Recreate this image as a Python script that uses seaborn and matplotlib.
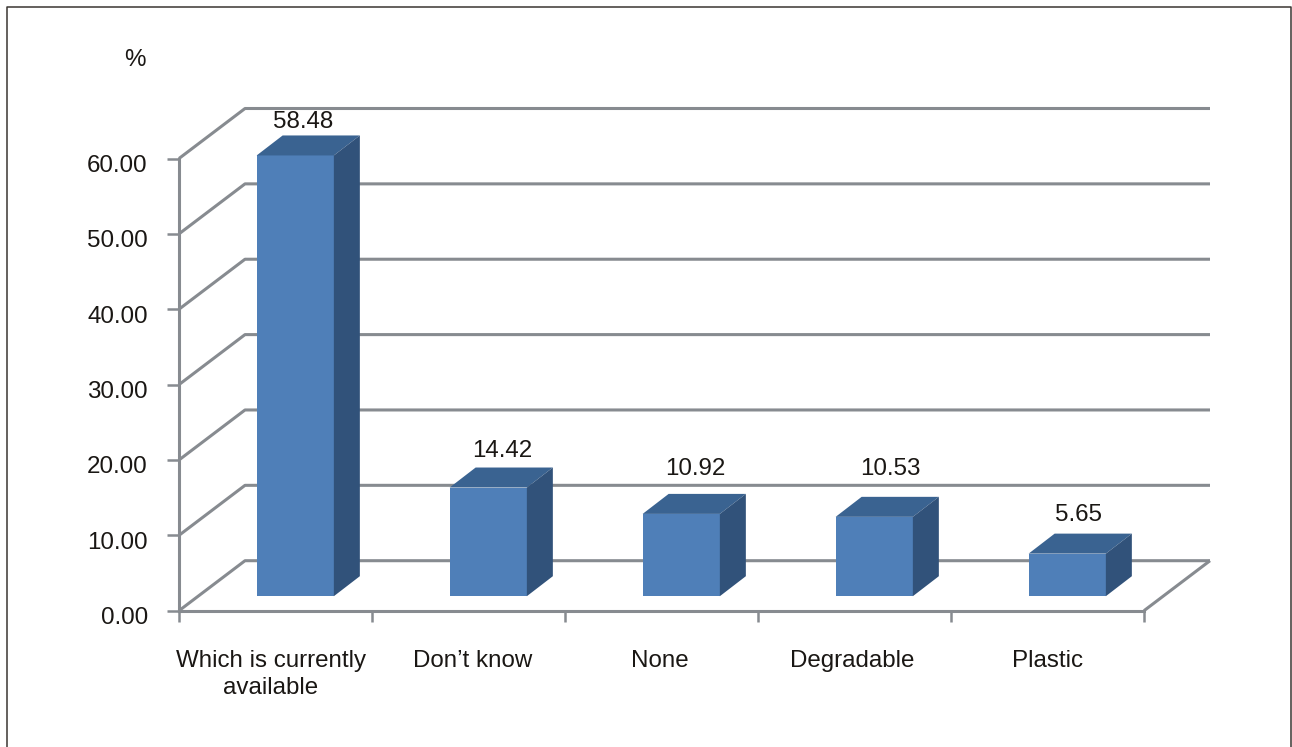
import matplotlib.pyplot as plt
import numpy as np
import pandas as pd
import seaborn as sns
from matplotlib.lines import Line2D
from matplotlib.transforms import ScaledTranslation

categories = ["Which is currently\navailable", "Don\u2019t know", "None", "Degradable", "Plastic"]
values = [58.48, 14.42, 10.92, 10.53, 5.65]
y_ticks = [0, 10, 20, 30, 40, 50, 60]

# small per-label nudges in pixels, the original labels are not quite centred
x_label_nudge = [-4.5, 4.5, -1.5, -2.5, 0.5]
value_label_nudge_x = [8, 13.75, 13.75, 15.75, 11]
value_label_nudge_y = [33, 36.5, 45, 48, 38.5]

FRONT = "#4f7fb8"
TOP = "#3a6391"
SIDE = "#31527a"
GRID = "#878b90"
TEXT = "#1a1714"
FONT_SIZE = 17.4

W, H = 1292, 747
AX_L, AX_R, AX_T, AX_B = 179, 1144, 158.5, 610.7

sns.set_theme(style="white")
plt.rcParams["font.family"] = ["Liberation Sans", "DejaVu Sans"]

fig = plt.figure(figsize=(W / 100, H / 100), dpi=100)
ax = fig.add_axes([AX_L / W, 1 - AX_B / H, (AX_R - AX_L) / W, (AX_B - AX_T) / H])

df = pd.DataFrame({"category": categories, "value": values})
sns.barplot(data=df, x="category", y="value", color=FRONT, saturation=1, width=0.4, ax=ax, zorder=3)

ax.set_xlim(-0.5, 4.5)
ax.set_ylim(0, 60)

# pixels to data units, used for the fake depth
px_x = 5 / (AX_R - AX_L)
px_y = 60 / (AX_B - AX_T)
wall_dx, wall_dy = 66 * px_x, 50 * px_y
bar_dx, bar_dy = 19.75 * px_x, 14.5 * px_y
side_dx, side_dy = 26 * px_x, 20 * px_y

# wall and floor lines
line_kw = dict(color=GRID, lw=2.2, clip_on=False, zorder=1, solid_capstyle="butt")
for v in y_ticks:
    ax.plot([-0.5, -0.5 + wall_dx, 4.5 + wall_dx], [v, v + wall_dy, v + wall_dy], **line_kw)
ax.plot([4.5, 4.5 + wall_dx], [0, wall_dy], **line_kw)

# shift the bars back and add top and side faces
for i, bar in enumerate(ax.patches):
    bar.set_x(bar.get_x() + bar_dx)
    bar.set_y(bar_dy)
    bar.set_linewidth(0)
    bar.set_clip_on(False)
    x0, x1 = bar.get_x(), bar.get_x() + bar.get_width()
    y0, y1 = bar_dy, bar_dy + values[i]
    ax.fill([x0, x1, x1 + side_dx, x0 + side_dx], [y1, y1, y1 + side_dy, y1 + side_dy],
            color=TOP, lw=0, clip_on=False, zorder=3)
    ax.fill([x1, x1 + side_dx, x1 + side_dx, x1], [y0, y0 + side_dy, y1 + side_dy, y1],
            color=SIDE, lw=0, clip_on=False, zorder=3)
    ax.annotate(f"{values[i]:.2f}", xy=((x0 + x1) / 2, y1),
                xytext=(value_label_nudge_x[i] * 0.72, value_label_nudge_y[i] * 0.72),
                textcoords="offset points", ha="center", va="center",
                fontsize=FONT_SIZE, color=TEXT, annotation_clip=False, zorder=5)

# axes
sns.despine(ax=ax)
for side in ["left", "bottom"]:
    ax.spines[side].set_color(GRID)
    ax.spines[side].set_linewidth(2.2)

ax.set_yticks(y_ticks, labels=[f"{v:.2f}" for v in y_ticks])
ax.set_xticks(np.arange(6) - 0.5, labels=[""] * 6)
ax.set_xticks(np.arange(5), labels=categories, minor=True)
ax.tick_params(axis="y", left=True, length=8.5, width=1.8, color=GRID, pad=14, labelsize=FONT_SIZE, labelcolor=TEXT)
ax.tick_params(axis="x", which="major", bottom=True, length=8, width=1.8, color=GRID)
ax.tick_params(axis="x", which="minor", bottom=True, length=0, pad=28, labelsize=FONT_SIZE, labelcolor=TEXT)

for label in ax.get_yticklabels():
    label.set_transform(label.get_transform() + ScaledTranslation(0, -5 / 100, fig.dpi_scale_trans))
for label, nudge in zip(ax.get_xticklabels(minor=True), x_label_nudge):
    label.set_transform(label.get_transform() + ScaledTranslation(nudge / 100, 0, fig.dpi_scale_trans))
    label.set_linespacing(1.3)

ax.set_xlabel("")
ax.set_ylabel("%", rotation=0, fontsize=FONT_SIZE, color=TEXT, ha="center", va="center")
ax.yaxis.set_label_coords((135 - AX_L) / (AX_R - AX_L), (AX_B - 60) / (AX_B - AX_T))

# frame around the figure, open at the bottom
frame_x = [6.5 / W, 6.5 / W, 1291 / W, 1291 / W]
frame_y = [0, 1 - 7 / H, 1 - 7 / H, 0]
fig.add_artist(Line2D(frame_x, frame_y, color="#3a3632", lw=1.1))

fig.savefig("out.png", dpi=100)
